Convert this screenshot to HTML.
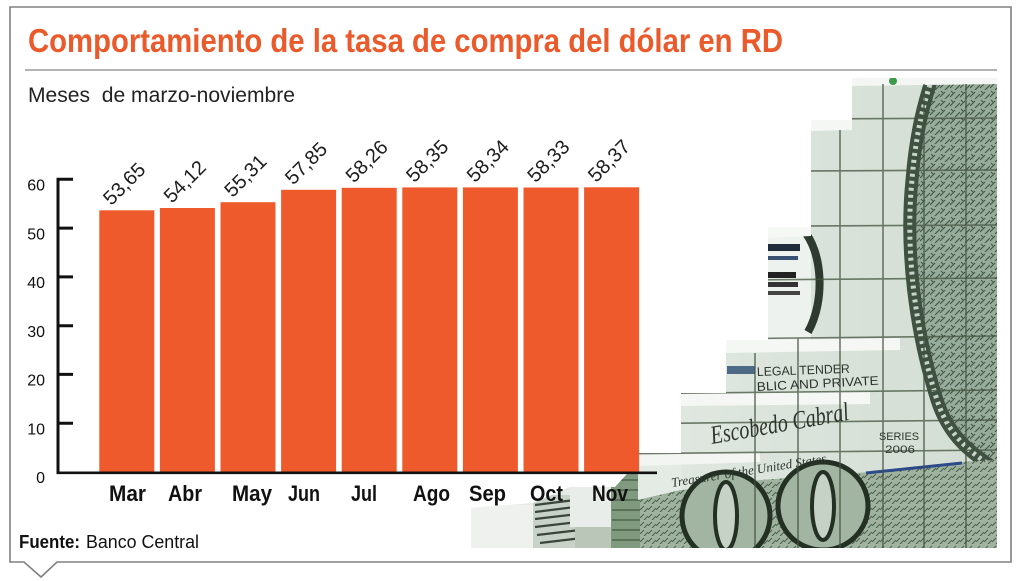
<!DOCTYPE html>
<html><head><meta charset="utf-8">
<style>
html,body{margin:0;padding:0;background:#fff;}
svg{display:block;}
.s{font-family:"Liberation Sans",sans-serif;}
.sf{font-family:"Liberation Serif",serif;font-style:italic;}
</style></head><body>
<svg width="1024" height="581" viewBox="0 0 1024 581" xmlns="http://www.w3.org/2000/svg">
<defs>
  <clipPath id="pc">
    <polygon points="852,78 997,78 997,548 471,548 471,508 533,503 570,487 615,487 638,462 638,453 681,453 681,393 726,393 726,340 768,340 768,227 811,227 811,120 852,120"/>
  </clipPath>
  <linearGradient id="face" x1="0" y1="0" x2="1" y2="0">
    <stop offset="0" stop-color="#e8eee8"/>
    <stop offset="1" stop-color="#d2ddd3"/>
  </linearGradient>
  <pattern id="eng" width="8" height="8" patternUnits="userSpaceOnUse">
    <rect width="8" height="8" fill="#9fb3a0"/>
    <path d="M0 6 L4 2 M4 8 L8 4" stroke="#506751" stroke-width="1.2"/>
  </pattern>
  <pattern id="port" width="10" height="9" patternUnits="userSpaceOnUse">
    <rect width="10" height="9" fill="#98ac9b"/>
    <path d="M0 7 L5 2 M5 9 L10 4 M1 1 L3 3" stroke="#445a47" stroke-width="1.2"/>
  </pattern>
</defs>

<!-- frame -->
<path d="M10 7 H1011 V562 H57 L41 577 L24 562 H10 Z" fill="#fff" stroke="#808080" stroke-width="1.6"/>

<!-- title -->
<text class="s" x="28" y="52" font-weight="bold" font-size="33" fill="#ea5a2a" textLength="755" lengthAdjust="spacingAndGlyphs">Comportamiento de la tasa de compra del dólar en RD</text>
<line x1="25" y1="70" x2="997" y2="70" stroke="#b4b4b4" stroke-width="2"/>
<text class="s" x="28" y="102" font-size="21" fill="#222" textLength="267" lengthAdjust="spacingAndGlyphs">Meses&#160; de marzo-noviembre</text>

<!-- photo -->
<g clip-path="url(#pc)">
  <rect x="460" y="70" width="540" height="480" fill="url(#face)"/>
  <rect x="471" y="505" width="62" height="45" fill="#eef1ee"/>
  <rect x="533" y="495" width="45" height="55" fill="#c9d2c9"/>
  <path d="M535 505 L575 500 M535 512 L575 507 M535 519 L578 514 M535 527 L578 522 M537 535 L580 530 M540 543 L582 538" stroke="#3b463b" stroke-width="2.2"/>
  <rect x="570" y="487" width="45" height="40" fill="#e9ede9"/>
  <rect x="575" y="527" width="40" height="23" fill="#b9c6b8"/>
  <rect x="611" y="470" width="70" height="80" fill="#7f9a7e"/>
  <path d="M612 480 H680 M612 490 H680 M612 500 H680 M612 510 H680 M612 520 H680 M612 530 H680 M612 540 H680" stroke="#4d644c" stroke-width="1.5"/>
  <polygon points="638,462 681,453 681,490 638,500" fill="#e4eae4"/>
  <!-- portrait right region -->
  <path d="M932 78 H997 V470 C975 455 950 440 937 400 C915 330 905 250 912 180 C916 130 925 100 932 78 Z" fill="url(#port)"/>
  <path d="M932 78 C925 100 916 130 912 180 C905 250 915 330 937 400 C950 440 975 455 997 470" fill="none" stroke="#3f5242" stroke-width="13"/>
  <path d="M932 78 C925 100 916 130 912 180 C905 250 915 330 937 400 C950 440 975 455 997 470" fill="none" stroke="#c8d4c8" stroke-width="5" stroke-dasharray="3 4"/>
  <!-- bottom bill band -->
  <polygon points="681,490 760,480 870,472 960,462 997,460 997,548 640,548 640,500" fill="url(#eng)"/>
  <line x1="866" y1="473" x2="962" y2="463" stroke="#2d4a8a" stroke-width="3"/>
  <ellipse cx="726" cy="516" rx="44" ry="44" fill="#a2b5a2" stroke="#233023" stroke-width="5"/>
  <ellipse cx="726" cy="516" rx="11" ry="34" fill="#c5d2c5" stroke="#233023" stroke-width="4"/>
  <ellipse cx="823" cy="506" rx="45" ry="44" fill="#a2b5a2" stroke="#233023" stroke-width="5"/>
  <ellipse cx="823" cy="506" rx="11" ry="34" fill="#c5d2c5" stroke="#233023" stroke-width="4"/>
  <!-- seal block -->
  <rect x="768" y="227" width="43" height="113" fill="#eef2ee"/>
  <rect x="768" y="244" width="32" height="7" fill="#1f2a3a"/>
  <rect x="768" y="256" width="30" height="4" fill="#3a5272"/>
  <rect x="768" y="272" width="28" height="6" fill="#222"/>
  <rect x="768" y="282" width="30" height="5" fill="#333"/>
  <rect x="768" y="291" width="32" height="4" fill="#444"/>
  <path d="M803 230 C822 250 826 300 808 332" fill="none" stroke="#2e3a2f" stroke-width="8"/>
  <rect x="727" y="366" width="28" height="8" fill="#4c6a86"/>
  <!-- top faces -->
  <polygon points="852,78 997,78 997,84 852,86" fill="#f3f6f3"/>
  <polygon points="811,120 852,120 852,130 811,131" fill="#f5f7f5"/>
  <polygon points="768,227 811,227 811,236 768,238" fill="#f6f8f6"/>
  <polygon points="726,340 768,340 900,338 900,350 726,353" fill="#f4f7f4"/>
  <polygon points="681,393 726,393 870,392 870,404 681,406" fill="#f4f7f4"/>
  <polygon points="638,453 681,453 760,452 760,462 638,466" fill="#f2f5f2"/>
  <!-- grid -->
  <g stroke="#42523f" stroke-width="1.6" opacity="0.75">
    <line x1="600" y1="120" x2="997" y2="118"/>
    <line x1="600" y1="172" x2="997" y2="170"/>
    <line x1="600" y1="227" x2="997" y2="225"/>
    <line x1="600" y1="281" x2="997" y2="278"/>
    <line x1="600" y1="340" x2="997" y2="336"/>
    <line x1="600" y1="394" x2="997" y2="390"/>
    <line x1="600" y1="424" x2="997" y2="420"/>
    <line x1="600" y1="454" x2="997" y2="450"/>
    <line x1="755" y1="353" x2="755" y2="548"/>
    <line x1="798" y1="338" x2="798" y2="548"/>
    <line x1="840" y1="130" x2="840" y2="548"/>
    <line x1="883" y1="84" x2="883" y2="548"/>
    <line x1="924" y1="84" x2="924" y2="548"/>
    <line x1="966" y1="84" x2="966" y2="548"/>
  </g>
  <circle cx="893" cy="81" r="4" fill="#3c9a4a"/>
  <text class="s" x="757" y="376" font-size="12.5" fill="#2c332c" textLength="93" lengthAdjust="spacingAndGlyphs" transform="rotate(-2 757 376)">LEGAL TENDER</text>
  <text class="s" x="757" y="391" font-size="12.5" fill="#2c332c" textLength="122" lengthAdjust="spacingAndGlyphs" transform="rotate(-3 757 391)">BLIC AND PRIVATE</text>
  <text class="sf" x="712" y="444" font-size="26" fill="#2e352e" textLength="140" lengthAdjust="spacingAndGlyphs" transform="rotate(-10 712 444)">Escobedo Cabral</text>
  <text class="sf" x="672" y="487" font-size="13" fill="#2e352e" textLength="160" lengthAdjust="spacingAndGlyphs" transform="rotate(-9 672 487)">Treasurer of the United States.</text>
  <text class="s" x="879" y="440" font-size="11" fill="#2e352e" textLength="40" lengthAdjust="spacingAndGlyphs">SERIES</text>
  <text class="s" x="885" y="453" font-size="11" fill="#2e352e" textLength="30" lengthAdjust="spacingAndGlyphs">2006</text>
</g>

<!-- bars -->
<g fill="#ef5a2c">
  <rect x="99.3" y="210.3" width="55" height="261.7"/>
  <rect x="159.9" y="208.0" width="55" height="264.0"/>
  <rect x="220.5" y="202.2" width="55" height="269.8"/>
  <rect x="281.1" y="189.8" width="55" height="282.2"/>
  <rect x="341.7" y="187.8" width="55" height="284.2"/>
  <rect x="402.3" y="187.4" width="55" height="284.6"/>
  <rect x="462.9" y="187.4" width="55" height="284.6"/>
  <rect x="523.5" y="187.5" width="55" height="284.5"/>
  <rect x="584.1" y="187.3" width="55" height="284.7"/>
</g>

<!-- axes -->
<line x1="56.5" y1="472.8" x2="657" y2="472.8" stroke="#111" stroke-width="2.6"/>
<line x1="58" y1="178" x2="58" y2="474" stroke="#111" stroke-width="3"/>
<g stroke="#111" stroke-width="3">
  <line x1="56.5" y1="179.3" x2="73" y2="179.3"/>
  <line x1="56.5" y1="228.1" x2="73" y2="228.1"/>
  <line x1="56.5" y1="276.9" x2="73" y2="276.9"/>
  <line x1="56.5" y1="325.7" x2="73" y2="325.7"/>
  <line x1="56.5" y1="374.4" x2="73" y2="374.4"/>
  <line x1="56.5" y1="423.2" x2="73" y2="423.2"/>
</g>
<g class="s" font-size="16" fill="#111" text-anchor="end">
  <text x="45" y="190.5">60</text>
  <text x="45" y="239.3">50</text>
  <text x="45" y="288.1">40</text>
  <text x="45" y="336.9">30</text>
  <text x="45" y="385.6">20</text>
  <text x="45" y="434.4">10</text>
  <text x="45" y="483.2">0</text>
</g>

<!-- value labels -->
<g class="s" font-size="20" fill="#1e1e1e">
  <text transform="translate(111.3,206.3) rotate(-45)">53,65</text>
  <text transform="translate(171.9,204.0) rotate(-45)">54,12</text>
  <text transform="translate(232.5,198.2) rotate(-45)">55,31</text>
  <text transform="translate(293.1,185.8) rotate(-45)">57,85</text>
  <text transform="translate(353.7,183.8) rotate(-45)">58,26</text>
  <text transform="translate(414.3,183.4) rotate(-45)">58,35</text>
  <text transform="translate(474.9,183.4) rotate(-45)">58,34</text>
  <text transform="translate(535.5,183.5) rotate(-45)">58,33</text>
  <text transform="translate(596.1,183.3) rotate(-45)">58,37</text>
</g>

<!-- month labels -->
<g class="s" font-size="22" font-weight="bold" fill="#111">
  <text x="109" y="501" textLength="37" lengthAdjust="spacingAndGlyphs">Mar</text>
  <text x="168" y="501" textLength="34" lengthAdjust="spacingAndGlyphs">Abr</text>
  <text x="232" y="501" textLength="40" lengthAdjust="spacingAndGlyphs">May</text>
  <text x="288" y="501" textLength="32" lengthAdjust="spacingAndGlyphs">Jun</text>
  <text x="351" y="501" textLength="26" lengthAdjust="spacingAndGlyphs">Jul</text>
  <text x="413" y="501" textLength="37" lengthAdjust="spacingAndGlyphs">Ago</text>
  <text x="469" y="501" textLength="37" lengthAdjust="spacingAndGlyphs">Sep</text>
  <text x="530" y="501" textLength="33" lengthAdjust="spacingAndGlyphs">Oct</text>
  <text x="592" y="501" textLength="36" lengthAdjust="spacingAndGlyphs">Nov</text>
</g>

<!-- source -->
<text class="s" x="19" y="548" font-size="18" font-weight="bold" fill="#111" textLength="61" lengthAdjust="spacingAndGlyphs">Fuente:</text>
<text class="s" x="86" y="548" font-size="18" fill="#111" textLength="113" lengthAdjust="spacingAndGlyphs">Banco Central</text>
</svg>
</body></html>
